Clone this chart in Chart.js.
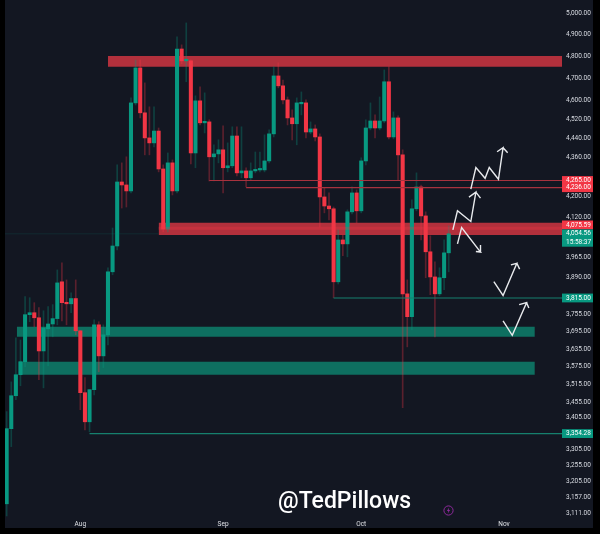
<!DOCTYPE html>
<html>
<head>
<meta charset="utf-8">
<title>ETH levels</title>
<script src="https://cdn.jsdelivr.net/npm/chart.js@4/dist/chart.umd.min.js"></script>
<style>
	html, body { margin: 0; padding: 0; background: #000; }
	#page { position: relative; width: 600px; height: 534px; overflow: hidden; background: #000; filter: blur(0.5px); }
	#panel { position: absolute; left: 5px; top: 0; width: 588px; height: 528px; background: #131722; }
	#handle { position: absolute; left: 278px; top: 487px; color: #fff; font: 500 23px Roboto, sans-serif; white-space: nowrap; }
	#bolt { position: absolute; left: 443px; top: 505px; }
</style>
</head>
<body>
<div id="page">
	<div id="panel"><canvas id="chart" width="588" height="528"></canvas></div>
	<div id="handle">@TedPillows</div>
	<svg id="bolt" width="11" height="11" viewBox="0 0 11 11"><circle cx="5.5" cy="5.5" r="4.6" fill="none" stroke="#8e2a9c" stroke-width="1"/><path d="M6.2 2.6 L3.9 6 H5.3 L4.8 8.4 L7.1 5 H5.7 Z" fill="#8e2a9c"/></svg>
</div>
<script>
// daily candles
const opens = [3138,3370,3477,3547,3591,3755,3762,3744,3628,3705,3722,3741,3874,3798,3794,3813,3698,3487,3392,3497,3719,3611,3684,3911,4008,4259,4247,4223,4591,4746,4548,4441,4420,4470,4312,4073,4337,4223,4832,4778,4778,4378,4600,4505,4509,4362,4374,4391,4317,4325,4449,4296,4304,4276,4304,4308,4308,4345,4458,4710,4666,4604,4526,4501,4587,4591,4466,4479,4445,4199,4163,4152,3874,4031,4016,4140,4215,4144,4345,4483,4513,4483,4513,4684,4445,4526,4370,3830,3748,4152,4239,4124,3986,3892,3830,3889,3982];
const highs = [3425,3523,3673,3666,3820,3816,3798,3780,3769,3784,3791,3918,3944,3881,3834,3881,3698,3537,3497,3737,3730,3719,3926,4077,4329,4337,4362,4613,4782,4782,4679,4574,4574,4483,4329,4378,4349,4888,4851,4953,4782,4622,4661,4635,4518,4412,4433,4492,4420,4488,4488,4488,4317,4337,4382,4382,4454,4475,4751,4769,4692,4617,4561,4613,4639,4604,4509,4496,4458,4235,4215,4159,4070,4050,4148,4239,4227,4358,4518,4591,4539,4617,4737,4751,4552,4535,4391,3881,4187,4296,4247,4140,4047,3948,3926,4031,4085];
const lows = [3102,3313,3464,3510,3574,3730,3712,3530,3503,3577,3677,3719,3733,3719,3762,3684,3431,3366,3360,3480,3557,3571,3649,3900,3993,4155,4159,4215,4582,4526,4370,4370,4403,4300,4062,4062,4207,4215,4765,4684,4333,4317,4496,4462,4263,4263,4337,4215,4300,4317,4284,4276,4239,4267,4296,4300,4300,4337,4445,4657,4587,4496,4433,4412,4539,4441,4458,4428,4081,4136,4108,3816,3866,3971,3967,4132,4097,4136,4329,4475,4441,4475,4505,4437,4437,4267,3438,3642,3701,4144,4031,3889,3827,3677,3823,3845,3911];
const closes = [3370,3477,3547,3591,3755,3762,3744,3628,3708,3722,3741,3870,3798,3794,3813,3698,3487,3392,3497,3719,3611,3684,3911,4008,4259,4247,4223,4591,4746,4548,4441,4420,4470,4312,4073,4337,4223,4832,4778,4782,4378,4600,4505,4509,4362,4374,4391,4317,4325,4449,4296,4304,4276,4304,4308,4312,4345,4458,4710,4666,4604,4526,4501,4591,4591,4466,4479,4445,4199,4163,4152,3874,4031,4016,4140,4215,4144,4345,4483,4513,4483,4513,4684,4445,4526,4370,3830,3748,4152,4239,4124,3986,3892,3830,3889,3982,4054.56];

// right hand price scale, the boxed labels near the last price are pushed apart as on the original
const tickValues = [5000,4900,4800,4700,4600,4520,4440,4360,4265,4236,4200,4120,4089,4054.56,4022,3965,3890,3815,3755,3695,3635,3575,3515,3455,3405,3354.28,3305,3255,3205,3157,3111];
const tickLabels = ["5,000.00","4,900.00","4,800.00","4,700.00","4,600.00","4,520.00","4,440.00","4,360.00","4,265.00","4,236.00","4,200.00","4,120.00","4,075.59","4,054.56","15:58:37","3,965.00","3,890.00","3,815.00","3,755.00","3,695.00","3,635.00","3,575.00","3,515.00","3,455.00","3,405.00","3,354.28","3,305.00","3,255.00","3,205.00","3,157.00","3,111.00"];
const redBoxes = [4265,4236,4089];
const greenBoxes = [4054.56,4022,3815,3354.28];

const monthTicks = [16,47,77,108];
const monthLabels = ["Aug","Sep","Oct","Nov"];

const xMin = -0.36;
const xMax = 120.6;

// zones: from candle, to candle, top price, bottom price
const redZoneA = [22,120.6,4800,4751];
const redZoneB = [33,120.6,4097,4050];
const greenZoneA = [2.2,114.7,3712,3677];
const greenZoneB = [2.6,114.7,3591,3547];

// levels: from candle, to candle, price
const redLevels = [[44,120.6,4265],[52,120.6,4236]];
const greenLevels = [[71,120.6,3815],[18,120.6,3354.28]];

// hand drawn arrows on the chart, candle number and price
const arrowA = [[96.9,4070],[97.9,4144],[100.8,4102],[101.9,4218],[100.4,4198],[101.9,4218],[102.9,4194]];
const arrowB = [[100.8,4230],[101.9,4318],[103.9,4274],[104.8,4318],[106.8,4270],[107.8,4400],[106.5,4383],[107.8,4400],[108.8,4379]];
const arrowC = [[97.9,4016],[98.8,4079],[102.9,3985],[101.9,3987],[102.9,3985],[102.9,4012]];
const arrowD = [[105.8,3875],[107.8,3824],[110.8,3943],[109.5,3937],[110.8,3943],[111.4,3921]];
const arrowE = [[107.8,3733],[109.8,3682],[112.9,3798],[111.3,3791],[112.9,3798],[113.4,3779]];

const UP = "#089981";
const DOWN = "#f23645";
const UP_WICK = "rgba(8,153,129,0.32)";
const DOWN_WICK = "rgba(242,54,69,0.32)";

function zoneSets(zone, color, order){
	let top = {type:"line", data:[{x:zone[0],y:zone[2]},{x:zone[1],y:zone[2]}], borderWidth:0, pointRadius:0, fill:"+1", backgroundColor:color, order:order};
	let bottom = {type:"line", data:[{x:zone[0],y:zone[3]},{x:zone[1],y:zone[3]}], borderWidth:0, pointRadius:0, fill:false, order:order};
	return [top, bottom];
}

function levelSet(level, color, width){
	return {type:"line", data:[{x:level[0],y:level[2]},{x:level[1],y:level[2]}], borderColor:color, borderWidth:width, pointRadius:0, fill:false, order:2};
}

function arrowSet(points){
	return {type:"line", data:points.map(p=>({x:p[0],y:p[1]})), borderColor:"#e8eaed", borderWidth:1.4, pointRadius:0, fill:false, tension:0, order:0};
}

const isUp = closes.map((c,i)=>c >= opens[i]);

const wicks = {
	type:"bar",
	data:highs.map((h,i)=>({x:i,y:[lows[i],h]})),
	backgroundColor:isUp.map(u=>u?UP_WICK:DOWN_WICK),
	barThickness:1,
	grouped:false,
	order:5
};
const bodies = {
	type:"bar",
	data:opens.map((o,i)=>({x:i,y:[o,closes[i]]})),
	backgroundColor:isUp.map(u=>u?UP:DOWN),
	barThickness:3.4,
	minBarLength:1.5,
	grouped:false,
	order:4
};

const datasets = [
	arrowSet(arrowA), arrowSet(arrowB), arrowSet(arrowC), arrowSet(arrowD), arrowSet(arrowE),
	levelSet(redLevels[0], "#a8323e", 1.2),
	levelSet(redLevels[1], "#a8323e", 1.2),
	levelSet(greenLevels[0], "#16806e", 1.2),
	levelSet(greenLevels[1], "#16806e", 1.2),
	levelSet([33,120.6,4075.59], "rgba(242,54,69,0.3)", 3),
	levelSet([xMin,33,4054.56], "rgba(8,153,129,0.15)", 1),
	bodies,
	wicks
].concat(
	zoneSets(redZoneA, "#b2303c", 6),
	zoneSets(redZoneB, "#b2303c", 6),
	zoneSets(greenZoneA, "#0e6f60", 6),
	zoneSets(greenZoneB, "#0e6f60", 6)
);

function boxColor(ctx){
	let v = tickValues[ctx.index];
	if(redBoxes.includes(v)) return DOWN;
	if(greenBoxes.includes(v)) return UP;
	return "rgba(0,0,0,0)";
}

new Chart(document.getElementById("chart"), {
	type:"bar",
	data:{datasets:datasets},
	options:{
		responsive:false,
		animation:false,
		events:[],
		layout:{padding:0},
		plugins:{legend:{display:false}, tooltip:{enabled:false}},
		scales:{
			x:{
				type:"linear",
				offset:false,
				min:xMin,
				max:xMax,
				grid:{display:false, drawTicks:false},
				border:{display:false},
				afterBuildTicks:(scale)=>{ scale.ticks = monthTicks.map(v=>({value:v})); },
				afterFit:(scale)=>{ scale.height = 10; scale.paddingLeft = 0; scale.paddingRight = 0; },
				ticks:{
					autoSkip:false,
					maxRotation:0,
					padding:2.5,
					color:"#dfe1e6",
					font:{family:"Roboto", size:6.5},
					callback:(v)=>monthLabels[monthTicks.indexOf(v)]
				}
			},
			y:{
				type:"logarithmic",
				position:"right",
				min:3096,
				max:5062,
				grid:{display:false, drawTicks:false},
				border:{display:false},
				afterBuildTicks:(scale)=>{ scale.ticks = tickValues.map(v=>({value:v})); },
				afterFit:(scale)=>{ scale.width = 31; scale.paddingTop = 0; scale.paddingBottom = 0; },
				ticks:{
					autoSkip:false,
					padding:4,
					crossAlign:"near",
					color:(ctx)=>boxColor(ctx)==="rgba(0,0,0,0)"?"#d8dbe2":"#ffffff",
					font:{family:"Roboto", size:6.5},
					showLabelBackdrop:true,
					backdropColor:boxColor,
					backdropPadding:{top:0.5,bottom:0.5,left:4,right:3},
					callback:(v)=>tickLabels[tickValues.indexOf(v)]
				}
			}
		}
	}
});
</script>
</body>
</html>
